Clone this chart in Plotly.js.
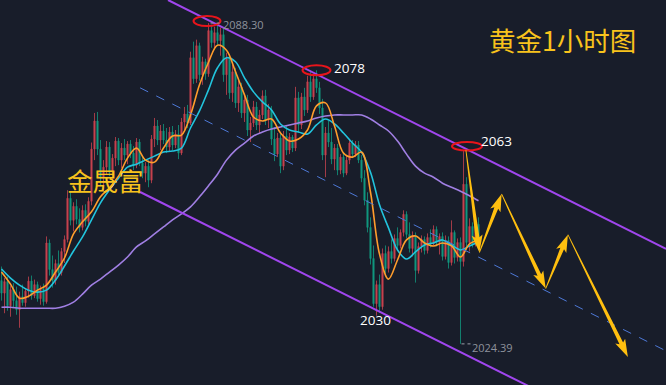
<!DOCTYPE html>
<html><head><meta charset="utf-8">
<script src="https://cdn.plot.ly/plotly-3.0.1.min.js"></script>
<style>html,body{margin:0;padding:0;background:#181d2a;overflow:hidden}#chart{width:666px;height:385px}</style>
</head><body><div id="chart"></div>
<script>
// 1-hour gold candles (price, USD)
const OPEN = [2037.0,2034.5,2036.8,2032.0,2035.2,2033.0,2031.2,2033.8,2032.6,2034.9,
2036.9,2034.0,2036.2,2033.4,2035.4,2032.8,2044.5,2039.2,2037.0,2040.4,
2038.6,2042.8,2045.2,2053.4,2049.0,2051.8,2049.2,2047.6,2051.0,2048.8,
2052.8,2063.2,2068.8,2063.2,2057.4,2059.6,2063.6,2058.6,2061.4,2064.8,
2061.0,2063.4,2062.0,2064.2,2062.4,2060.0,2064.6,2060.4,2058.4,2059.8,
2057.0,2065.2,2067.8,2065.0,2066.8,2065.0,2063.6,2066.6,2064.0,2066.2,
2062.4,2068.6,2070.2,2068.4,2081.4,2077.2,2083.8,2078.0,2080.6,2078.2,
2086.8,2084.4,2086.4,2084.8,2086.0,2078.0,2081.2,2074.4,2078.6,2072.4,
2075.6,2070.4,2073.0,2067.0,2068.4,2071.6,2068.0,2070.0,2073.8,2069.0,
2071.0,2065.2,2062.2,2065.4,2059.8,2065.8,2063.0,2065.6,2063.4,2073.4,
2068.0,2073.6,2071.0,2076.6,2073.6,2077.2,2075.4,2071.4,2062.0,2066.4,
2064.6,2061.2,2063.4,2059.0,2061.6,2058.4,2061.0,2064.4,2062.2,2064.0,
2061.0,2057.4,2053.0,2047.6,2041.4,2032.4,2036.2,2031.8,2042.4,2039.4,
2042.8,2041.4,2045.4,2044.0,2046.6,2050.2,2046.2,2043.4,2046.0,2039.0,
2043.8,2045.2,2043.0,2045.6,2044.4,2047.2,2044.6,2045.8,2041.8,2045.0,
2040.6,2046.6,2041.6,2044.6,2040.8,2056.2,2044.6,2047.8,2044.4,2048.2];
const HIGH = [2039.8,2037.5,2037.8,2036.0,2036.5,2035.8,2034.8,2036.2,2035.5,2037.8,
2038.0,2037.2,2036.8,2036.0,2036.4,2045.8,2045.2,2042.0,2041.2,2043.0,
2043.5,2046.0,2055.0,2054.6,2052.6,2053.2,2051.4,2052.0,2052.2,2053.6,
2064.5,2070.4,2070.6,2065.0,2061.0,2064.8,2064.6,2062.2,2065.6,2065.4,
2064.4,2065.2,2064.8,2065.0,2063.8,2065.4,2065.2,2061.6,2060.6,2061.0,
2066.0,2069.4,2069.0,2068.0,2068.2,2067.4,2067.6,2067.8,2067.0,2068.0,
2069.4,2071.6,2072.0,2082.6,2084.6,2085.0,2084.4,2081.6,2081.2,2088.3,
2088.0,2087.6,2087.8,2087.4,2087.2,2082.4,2082.0,2080.0,2079.4,2076.8,
2076.4,2074.2,2074.0,2069.6,2072.8,2072.6,2071.0,2074.9,2075.0,2072.2,
2071.8,2067.6,2066.4,2066.2,2066.8,2068.0,2066.4,2066.0,2075.6,2074.6,
2074.4,2075.4,2077.8,2078.8,2078.2,2078.9,2076.6,2073.2,2067.6,2068.8,
2067.4,2064.2,2064.2,2062.2,2062.6,2062.0,2065.2,2065.0,2064.8,2064.8,
2062.0,2059.0,2054.6,2049.6,2044.0,2037.0,2038.2,2043.4,2044.0,2043.8,
2045.2,2046.2,2047.6,2047.2,2051.0,2050.8,2048.6,2046.8,2046.6,2044.6,
2046.0,2045.8,2046.4,2047.2,2048.0,2047.8,2046.4,2046.6,2046.0,2045.8,
2049.0,2047.0,2045.4,2045.6,2063.0,2057.6,2049.4,2048.6,2049.0,2049.6];
const LOW = [2033.0,2030.5,2031.0,2029.8,2031.5,2030.2,2027.6,2032.0,2031.8,2033.6,
2033.2,2033.5,2032.8,2032.2,2032.0,2032.4,2038.0,2035.6,2036.2,2037.8,
2038.0,2040.5,2044.6,2048.0,2046.8,2048.2,2046.6,2047.0,2047.8,2048.2,
2052.0,2061.0,2062.0,2056.0,2054.8,2058.2,2057.8,2056.6,2059.8,2060.0,
2059.4,2061.0,2060.2,2061.4,2059.0,2059.4,2059.8,2057.4,2056.6,2055.6,
2056.4,2063.6,2064.0,2063.0,2064.2,2062.4,2062.8,2063.0,2063.4,2061.2,
2062.0,2066.8,2067.4,2068.0,2076.2,2076.4,2076.8,2076.0,2077.0,2077.6,
2083.4,2083.0,2084.0,2081.8,2076.6,2074.0,2073.2,2072.6,2071.4,2070.6,
2069.4,2068.6,2065.8,2064.6,2067.6,2067.0,2066.2,2069.2,2068.0,2067.4,
2064.0,2060.8,2061.6,2058.4,2059.0,2062.0,2062.2,2062.6,2062.8,2066.4,
2067.2,2069.8,2070.4,2072.6,2073.0,2074.4,2070.2,2061.0,2057.6,2063.6,
2060.2,2059.0,2058.0,2058.2,2057.6,2058.0,2060.2,2061.4,2061.6,2060.4,
2056.6,2052.0,2046.6,2040.2,2031.8,2030.0,2030.6,2031.2,2038.4,2038.6,
2040.4,2040.8,2043.2,2043.4,2045.8,2045.4,2042.6,2041.8,2036.6,2038.4,
2042.6,2042.2,2042.4,2043.6,2044.0,2043.8,2042.2,2041.0,2041.2,2039.4,
2040.0,2040.4,2040.8,2024.39,2039.8,2043.2,2042.8,2043.6,2043.8,2044.6];
const CLOSE = [2034.5,2036.8,2032.0,2035.2,2033.0,2031.2,2033.8,2032.6,2034.9,2036.9,
2034.0,2036.2,2033.4,2035.4,2032.8,2044.5,2039.2,2037.0,2040.4,2038.6,
2042.8,2045.2,2053.4,2049.0,2051.8,2049.2,2047.6,2051.0,2048.8,2052.8,
2063.2,2068.8,2063.2,2057.4,2059.6,2063.6,2058.6,2061.4,2064.8,2061.0,
2063.4,2062.0,2064.2,2062.4,2060.0,2064.6,2060.4,2058.4,2059.8,2057.0,
2065.2,2067.8,2065.0,2066.8,2065.0,2063.6,2066.6,2064.0,2066.2,2062.4,
2068.6,2070.2,2068.4,2081.4,2077.2,2083.8,2078.0,2080.6,2078.2,2086.8,
2084.4,2086.4,2084.8,2086.0,2078.0,2081.2,2074.4,2078.6,2072.4,2075.6,
2070.4,2073.0,2067.0,2068.4,2071.6,2068.0,2070.0,2073.8,2069.0,2071.0,
2065.2,2062.2,2065.4,2059.8,2065.8,2063.0,2065.6,2063.4,2073.4,2068.0,
2073.6,2071.0,2076.6,2073.6,2077.2,2075.4,2071.4,2062.0,2066.4,2064.6,
2061.2,2063.4,2059.0,2061.6,2058.4,2061.0,2064.4,2062.2,2064.0,2061.0,
2057.4,2053.0,2047.6,2041.4,2032.4,2036.2,2031.8,2042.4,2039.4,2042.8,
2041.4,2045.4,2044.0,2046.6,2050.2,2046.2,2043.4,2046.0,2039.0,2043.8,
2045.2,2043.0,2045.6,2044.4,2047.2,2044.6,2045.8,2041.8,2045.0,2040.6,
2046.6,2041.6,2044.6,2040.8,2056.2,2044.6,2047.8,2044.4,2048.2,2045.6];

// moving averages, one value every MA_STEP candles
const MA_STEP = 3;
const MA_FAST = [2038.7,2036.3,2033.5,2033.9,2035.1,2036.1,2038.7,2041.5,2046.3,2048.7,
2050.7,2053.7,2055.5,2057.8,2061.4,2063.4,2061.0,2060.6,2063.4,2065.8,
2066.0,2070.0,2076.0,2080.5,2083.9,2082.9,2078.6,2074.0,2069.6,2068.8,
2069.2,2066.4,2064.8,2065.2,2067.0,2071.8,2072.4,2067.8,2062.4,2061.6,
2062.6,2054.6,2042.3,2037.3,2041.1,2045.1,2045.9,2044.5,2043.9,2044.5,
2043.9,2041.7,2044.3,2045.1];
const MA_MID = [2039.3,2037.5,2036.1,2035.1,2034.7,2035.1,2037.1,2039.9,2042.9,2045.7,
2049.1,2052.5,2055.1,2057.4,2059.6,2060.2,2061.0,2061.8,2062.6,2062.8,
2063.4,2067.4,2070.8,2075.0,2079.4,2081.4,2080.6,2077.4,2074.6,2072.6,
2071.0,2068.2,2067.0,2066.6,2066.2,2068.0,2069.2,2068.2,2066.4,2064.4,
2062.6,2058.6,2052.1,2047.5,2043.1,2041.3,2042.7,2044.1,2044.5,2045.1,
2044.1,2043.1,2043.9,2044.7];
const MA_SLOW = [2031.7,2031.7,2031.5,2031.5,2031.5,2031.5,2031.5,2031.9,2032.7,2034.3,
2036.1,2037.3,2038.7,2040.1,2041.7,2043.7,2044.9,2046.3,2047.7,2049.1,
2050.3,2051.7,2053.7,2055.9,2058.2,2061.0,2063.0,2064.4,2065.8,2066.6,
2067.2,2067.6,2068.0,2068.4,2068.8,2069.4,2069.8,2070.0,2070.0,2070.0,
2070.0,2069.2,2068.0,2066.8,2064.8,2062.2,2059.8,2058.4,2057.6,2056.4,
2055.6,2054.8,2053.9,2052.9];

// drawn trend channel: [candle index, price]
const CHANNEL_UPPER = [[55.5, 2092.9], [221.5, 2043.3]];
const CHANNEL_MID   = [[46.2, 2075.4], [221.5, 2023.0]];
const CHANNEL_LOWER = [[46.2, 2054.65], [180, 2014.7]];
// projected path (arrows)
const PATH_IDX   = [154.8, 159.3, 166.7, 181.4, 188.8, 208.8];
const PATH_PRICE = [2063.0, 2042.6, 2054.25, 2035.4, 2046.15, 2021.8];
// marked highs
const MARK_IDX   = [69, 105, 154];
const MARK_PRICE = [2088.3, 2078.9, 2063.0];

const XR = [-0.5, 221.5], YR = [2016.2, 2092.9];
const W = 666, H = 385;
const kx = W / (XR[1] - XR[0]), ky = H / (YR[1] - YR[0]);
const toPx = (i, p) => [(i - XR[0]) * kx, (YR[1] - p) * ky];
const toData = (x, y) => [x / kx + XR[0], YR[1] - y / ky];

const idx = OPEN.map((_, i) => i);
const maX = MA_FAST.map((_, k) => k * MA_STEP);

const traces = [
  {type: 'candlestick', x: idx, open: OPEN, high: HIGH, low: LOW, close: CLOSE,
   increasing: {line: {color: '#c7434f', width: 0.8}, fillcolor: '#c7434f'},
   decreasing: {line: {color: '#11977f', width: 0.8}, fillcolor: '#11977f'},
   whiskerwidth: 0, hoverinfo: 'skip', showlegend: false},
  {type: 'scatter', mode: 'lines', x: maX, y: MA_SLOW, line: {color: '#a07fe3', width: 1.6, shape: 'spline', smoothing: 1}, hoverinfo: 'skip', showlegend: false},
  {type: 'scatter', mode: 'lines', x: maX, y: MA_MID, line: {color: '#22c4dd', width: 1.6, shape: 'spline', smoothing: 1}, hoverinfo: 'skip', showlegend: false},
  {type: 'scatter', mode: 'lines', x: maX, y: MA_FAST, line: {color: '#ff9d2c', width: 1.6, shape: 'spline', smoothing: 1}, hoverinfo: 'skip', showlegend: false}
];

function arrowPath(a, b) {
  const [x0, y0] = toPx(a[0], a[1]), [x1, y1] = toPx(b[0], b[1]);
  const dx = x1 - x0, dy = y1 - y0, L = Math.hypot(dx, dy);
  const ux = dx / L, uy = dy / L, nx = -uy, ny = ux;
  const headLen = 15, headW = 5.5, w0 = 0.4, w1 = 2.0;
  const bx = x1 - ux * headLen, by = y1 - uy * headLen;
  const wx = bx - ux * 2.5, wy = by - uy * 2.5;
  const pts = [
    [x0 + nx * w0, y0 + ny * w0], [bx + nx * w1, by + ny * w1], [wx + nx * headW, wy + ny * headW],
    [x1, y1], [wx - nx * headW, wy - ny * headW], [bx - nx * w1, by - ny * w1], [x0 - nx * w0, y0 - ny * w0]
  ];
  return 'M' + pts.map(p => toData(p[0], p[1]).join(',')).join('L') + 'Z';
}

const shapes = [];
const chan = (c, color, width, dash) => shapes.push({type: 'line', xref: 'x', yref: 'y',
  x0: c[0][0], y0: c[0][1], x1: c[1][0], y1: c[1][1], line: {color, width, dash}});
chan(CHANNEL_MID, '#4d78d6', 1, 'dash');
chan(CHANNEL_UPPER, '#a046ee', 2, 'solid');
chan(CHANNEL_LOWER, '#a046ee', 2, 'solid');

// ellipses around marked highs (pixel sized, anchored at the candle high)
const ELL = [[-15, 12, -3, 7], [-14, 14, -5, 5], [-11.5, 18.5, -0.5, 8]];
MARK_IDX.forEach((m, j) => shapes.push({type: 'circle', xref: 'x', yref: 'y', xsizemode: 'pixel', ysizemode: 'pixel',
  xanchor: m, yanchor: MARK_PRICE[j], x0: ELL[j][0], x1: ELL[j][1], y0: ELL[j][2], y1: ELL[j][3],
  line: {color: '#e8151b', width: 2}, fillcolor: 'rgba(0,0,0,0)'}));

// dotted leaders for the extreme price labels
shapes.push({type: 'line', xref: 'x', yref: 'y', xsizemode: 'pixel', xanchor: 69, x0: 2, x1: 12,
  y0: 2088.3, y1: 2088.3, line: {color: '#9a9ea8', width: 1, dash: 'dot'}});
shapes.push({type: 'line', xref: 'x', yref: 'y', xsizemode: 'pixel', xanchor: 153, x0: 1, x1: 10,
  y0: 2024.39, y1: 2024.39, line: {color: '#9a9ea8', width: 1, dash: 'dot'}});

for (let k = 0; k < PATH_IDX.length - 1; k++) {
  shapes.push({type: 'path', xref: 'x', yref: 'y', path: arrowPath([PATH_IDX[k], PATH_PRICE[k]], [PATH_IDX[k + 1], PATH_PRICE[k + 1]]),
    fillcolor: '#ffbf0f', line: {width: 0}});
}

const px = x => x / W, py = y => 1 - y / H;
const numFont = (size, color) => ({family: 'Open Sans, Noto Sans, sans-serif', size, color});
const cjk = {family: 'Noto Sans CJK SC, sans-serif', size: 26.5, color: '#f8c31c'};
const ann = (text, x, y, font, xanchor) => ({text, xref: 'paper', yref: 'paper', x: px(x), y: py(y),
  xanchor: xanchor || 'left', yanchor: 'middle', showarrow: false, font});
const annotations = [
  ann('2088.30', 221, 24, numFont(11, '#8e929c')),
  ann('2078', 332, 68, numFont(13.5, '#ffffff')),
  ann('2063', 479, 141, numFont(13.5, '#ffffff')),
  ann('2030', 358, 320, numFont(13.5, '#ffffff')),
  ann('2024.39', 470, 347, numFont(11, '#8e929c')),
  ann('黄金1小时图', 562, 39, cjk, 'center'),
  ann('金晟富', 105, 179, {family: 'Noto Sans CJK SC, sans-serif', size: 25.5, color: '#f8c31c'}, 'center')
];

const layout = {
  width: W, height: H, margin: {l: 0, r: 0, t: 0, b: 0},
  paper_bgcolor: '#181d2a', plot_bgcolor: '#181d2a', showlegend: false,
  boxgap: 0.45,
  xaxis: {range: XR, visible: false, showgrid: false, zeroline: false, rangeslider: {visible: false}, fixedrange: true},
  yaxis: {range: YR, visible: false, showgrid: false, zeroline: false, fixedrange: true},
  shapes, annotations
};
Plotly.newPlot('chart', traces, layout, {displayModeBar: false, staticPlot: true});
</script></body></html>
